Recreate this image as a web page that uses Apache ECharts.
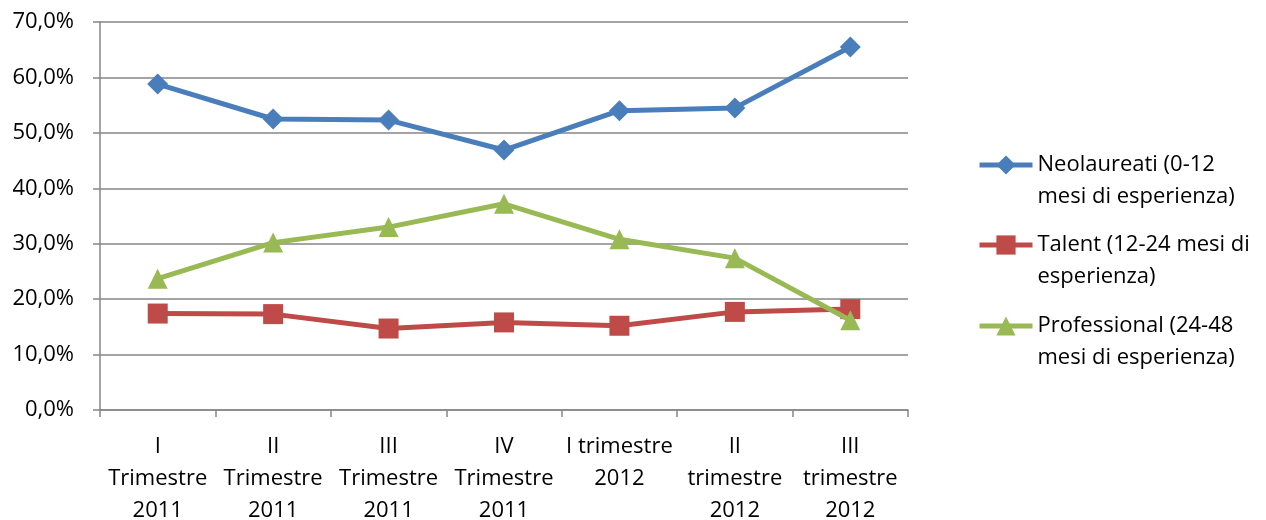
<!DOCTYPE html>
<html>
<head>
<meta charset="utf-8">
<script src="https://cdn.jsdelivr.net/npm/echarts@6/dist/echarts.min.js"></script>
<style>html,body{margin:0;padding:0;background:#fff;}#c{width:1266px;height:520px;}</style>
</head>
<body>
<div id="c"></div>
<script>
const categories = ["I\nTrimestre\n2011","II\nTrimestre\n2011","III\nTrimestre\n2011","IV\nTrimestre\n2011","I trimestre\n2012","II\ntrimestre\n2012","III\ntrimestre\n2012"];
const seriesNames = ["Neolaureati (0-12\nmesi di esperienza)","Talent (12-24 mesi di\nesperienza)","Professional (24-48\nmesi di esperienza)"];
const neolaureati = [58.8, 52.5, 52.3, 46.9, 54.0, 54.5, 65.5];
const talent = [17.4, 17.3, 14.7, 15.8, 15.2, 17.7, 18.2];
const professional = [23.7, 30.2, 33.0, 37.2, 30.8, 27.4, 16.2];
const yTicks = {min: 0, max: 70, interval: 10};

const FONT = '"Open Sans"';
const FS = 22;
const LH = 32;
const colors = ['#4A7EBB', '#BE4B48', '#98B954'];
const symbols = ['diamond', 'rect', 'triangle'];
const sizes = [21, 20, 20];
const dataSets = [neolaureati, talent, professional];
const legendCenters = [165, 245, 326];

const chart = echarts.init(document.getElementById('c'), null, {renderer: 'canvas'});
chart.setOption({
  animation: false,
  backgroundColor: '#fff',
  textStyle: {fontFamily: FONT},
  grid: {left: 100, right: 358, top: 22, bottom: 110, containLabel: false, outerBoundsMode: 'none'},
  legend: seriesNames.map((n, i) => ({
    data: [n],
    orient: 'vertical',
    left: 977,
    top: legendCenters[i] - 1.5 * LH,
    itemWidth: 53,
    itemHeight: 24,
    itemGap: 0,
    padding: 0,
    selectedMode: false,
    formatter: name => ' \n' + name,
    lineStyle: {width: 5},
    textStyle: {fontFamily: FONT, fontSize: FS, color: '#000', lineHeight: LH}
  })),
  xAxis: {
    type: 'category',
    data: categories,
    boundaryGap: true,
    axisLine: {show: true, lineStyle: {color: '#868686', width: 1.5}},
    axisTick: {show: true, length: 7, lineStyle: {color: '#868686', width: 1.5}},
    axisLabel: {interval: 0, color: '#000', fontFamily: FONT, fontSize: FS, lineHeight: LH, margin: 21, verticalAlign: 'top'},
    splitLine: {show: false}
  },
  yAxis: {
    type: 'value',
    min: yTicks.min, max: yTicks.max, interval: yTicks.interval,
    axisLine: {show: true, lineStyle: {color: '#868686', width: 1.5}},
    axisTick: {show: true, length: 7, lineStyle: {color: '#868686', width: 1.5}},
    axisLabel: {color: '#000', fontFamily: FONT, fontSize: FS, margin: 26,
      formatter: v => v.toFixed(1).replace('.', ',') + '%'},
    splitLine: {show: true, lineStyle: {color: '#868686', width: 1.5}}
  },
  series: seriesNames.map((n, i) => ({
    name: n,
    type: 'line',
    data: dataSets[i],
    symbol: symbols[i],
    symbolSize: sizes[i],
    showAllSymbol: true,
    lineStyle: {color: colors[i], width: 5},
    itemStyle: {color: colors[i]},
    z: 3 + i
  }))
});
</script>
</body>
</html>
